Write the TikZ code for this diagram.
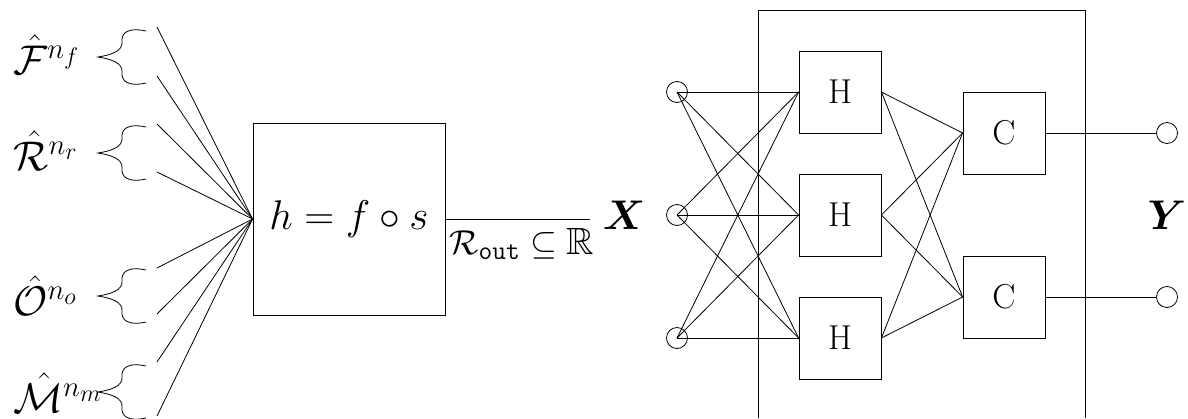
\documentclass[tikz,border=0pt]{standalone}
\usepackage{amsmath,amssymb}
\usepackage{tikz}
\usetikzlibrary{positioning,calc}

\begin{document}
\begin{tikzpicture}[
  x=0.5pt, y=-0.5pt,
  every node/.style={font=\huge},
  mapbox/.style={draw, minimum width=96pt, minimum height=96pt,
                 inner sep=0pt},
  unit/.style={draw, minimum width=41pt, minimum height=41pt,
               inner sep=0pt, font=\LARGE},
  port/.style={draw, circle, minimum size=10.5pt, inner sep=0pt},
  lab/.style={anchor=base west, inner sep=0pt},
]
\useasboundingbox (0,0) rectangle (1188,418);

%% Left: inputs and the map
\node[mapbox] (h) at (349,219) {$h = f \circ s$};

\node[lab] (lf) at (13,74)  {$\hat{\mathcal{F}}^{n_f}$};
\node[lab] (lr) at (13,170) {$\hat{\mathcal{R}}^{n_r}$};
\node[lab] (lo) at (13,315) {$\hat{\mathcal{O}}^{n_o}$};
\node[lab] (lm) at (13,412) {$\hat{\mathcal{M}}^{n_m}$};

%% Braces
\foreach \y in {31,127,270,366} {
  \begin{scope}[shift={(146,\y)}]
    \draw (0,0) .. controls (-18,-4) and (-25,2) .. (-24,11)
      .. controls (-23,20) and (-35,24) .. (-48,26)
      .. controls (-35,28) and (-23,32) .. (-24,41)
      .. controls (-25,50) and (-18,56) .. (0,52);
  \end{scope}
}

%% Feature lines into the map
\foreach \y [count=\i] in {27,76,124,172,268,314,362,416} {
  \coordinate (s\i) at (157,\y);
  \draw (s\i) -- (h.west);
}

%% Output of the map
\coordinate (hout) at (590,219);
\draw (h.east) -- (hout);
\node[anchor=north west, inner sep=2pt, font=\fontsize{19}{23}\selectfont]
  (rout) at (445,224) {$\mathcal{R}_{\texttt{out}} \subseteq \mathbb{R}$};

%% Right: network
\draw (758,418) -- (758,10) -- (1085.5,10) -- (1085.5,418);

\node (X) at (624,215) {$\boldsymbol{X}$};
\node (Y) at (1167,215) {$\boldsymbol{Y}$};

\foreach \y [count=\i] in {92,215,338} {
  \node[port] (in\i) at (677,\y) {};
  \node[unit] (H\i) at (840,\y) {H};
}
\foreach \y [count=\k] in {133,297} {
  \node[unit] (C\k) at (1004,\y) {C};
  \node[port] (out\k) at (1167,\y) {};
}

%% Connections
\foreach \i in {1,2,3} {
  \foreach \j in {1,2,3} {
    \draw (in\i.center) -- (H\j.west);
  }
}
\foreach \j in {1,2,3} {
  \foreach \k in {1,2} {
    \draw (H\j.east) -- (C\k.west);
  }
}
\foreach \k in {1,2} {
  \draw (C\k.east) -- (out\k.west);
}

\end{tikzpicture}
\end{document}
